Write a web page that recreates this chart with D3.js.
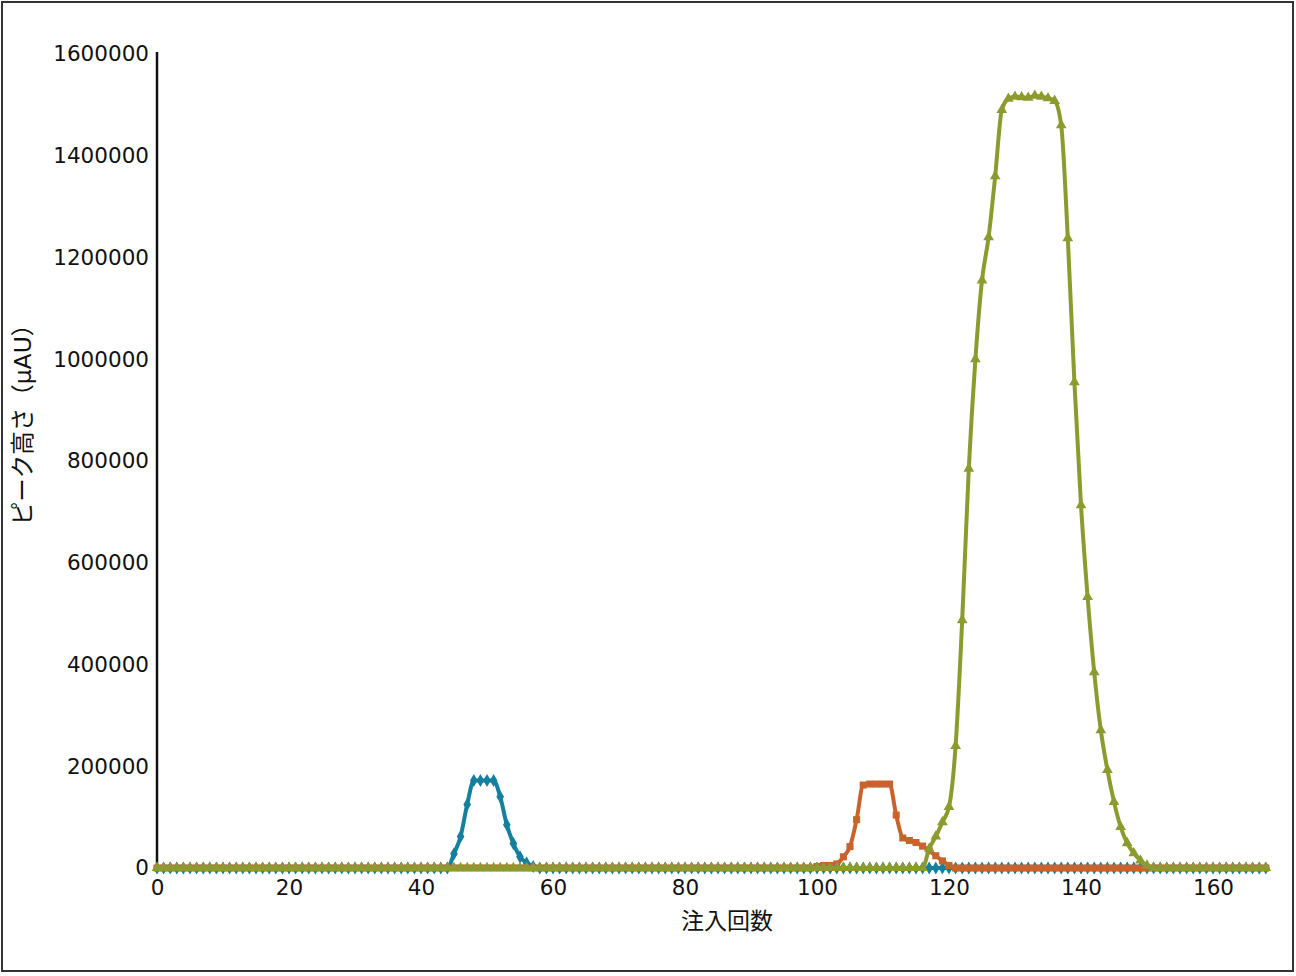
<!DOCTYPE html>
<html>
<head>
<meta charset="utf-8">
<script src="https://cdn.jsdelivr.net/npm/d3@7"></script>
<style>
  body { margin: 0; background: #fff; }
  svg { display: block; font-family: "DejaVu Sans", "Noto Sans CJK JP", sans-serif; }
</style>
</head>
<body>
<svg id="chart" width="1296" height="976"></svg>
<script>
// injection number 0..168
const injections = d3.range(0, 169);

// peak height (µAU), one row = 10 injections
const blue = [
  0,0,0,0,0,0,0,0,0,0,
  0,0,0,0,0,0,0,0,0,0,
  0,0,0,0,0,0,0,0,0,0,
  0,0,0,0,0,0,0,0,0,0,
  0,0,0,0,0,28000,62000,125000,172000,172000,
  172000,172000,140000,85000,48000,22000,10000,3000,0,0,
  0,0,0,0,0,0,0,0,0,0,
  0,0,0,0,0,0,0,0,0,0,
  0,0,0,0,0,0,0,0,0,0,
  0,0,0,0,0,0,0,0,0,0,
  0,0,0,0,0,0,0,0,0,0,
  0,0,0,0,0,0,0,0,0,0,
  0,0,0,0,0,0,0,0,0,0,
  0,0,0,0,0,0,0,0,0,0,
  0,0,0,0,0,0,0,0,0,0,
  0,0,0,0,0,0,0,0,0,0,
  0,0,0,0,0,0,0,0,0
];

const orange = [
  0,0,0,0,0,0,0,0,0,0,
  0,0,0,0,0,0,0,0,0,0,
  0,0,0,0,0,0,0,0,0,0,
  0,0,0,0,0,0,0,0,0,0,
  0,0,0,0,0,0,0,0,0,0,
  0,0,0,0,0,0,0,0,0,0,
  0,0,0,0,0,0,0,0,0,0,
  0,0,0,0,0,0,0,0,0,0,
  0,0,0,0,0,0,0,0,0,0,
  0,0,0,0,0,0,0,0,0,0,
  3000,5000,5000,8000,22000,42000,95000,163000,165000,165000,
  165000,165000,104000,59000,54000,50000,43000,34000,24000,14000,
  5000,0,0,0,0,0,0,0,0,0,
  0,0,0,0,0,0,0,0,0,0,
  0,0,0,0,0,0,0,0,0,0,
  0,0,0,0,0,0,0,0,0,0,
  0,0,0,0,0,0,0,0,0
];

const green = [
  0,0,0,0,0,0,0,0,0,0,
  0,0,0,0,0,0,0,0,0,0,
  0,0,0,0,0,0,0,0,0,0,
  0,0,0,0,0,0,0,0,0,0,
  0,0,0,0,0,0,0,0,0,0,
  0,0,0,0,0,0,0,0,0,0,
  0,0,0,0,0,0,0,0,0,0,
  0,0,0,0,0,0,0,0,0,0,
  0,0,0,0,0,0,0,0,0,0,
  0,0,0,0,0,0,0,0,0,0,
  0,0,0,0,0,0,0,0,0,0,
  0,0,0,0,0,0,0,38000,62000,90000,
  120000,240000,487000,785000,1000000,1155000,1240000,1360000,1490000,1512000,
  1516000,1515000,1514000,1518000,1516000,1513000,1508000,1460000,1238000,955000,
  713000,533000,385000,271000,193000,130000,81000,49000,29000,15000,
  5000,0,0,0,0,0,0,0,0,0,
  0,0,0,0,0,0,0,0,0
];

const xTicks = [0, 20, 40, 60, 80, 100, 120, 140, 160];
const yTicks = [0, 200000, 400000, 600000, 800000, 1000000, 1200000, 1400000, 1600000];

const series = [
  { name: 'blue', values: blue, color: '#147f9e', symbol: d3.symbolDiamond },
  { name: 'orange', values: orange, color: '#c8632d', symbol: d3.symbolSquare },
  { name: 'green', values: green, color: '#8c9b2e', symbol: d3.symbolTriangle }
];

const svg = d3.select('#chart');
const margin = { top: 54, right: 17, bottom: 108, left: 157 };
const W = 1296, H = 976;

// outer frame
svg.append('rect')
  .attr('x', 2).attr('y', 2)
  .attr('width', 1291).attr('height', 969)
  .attr('fill', 'none')
  .attr('stroke', '#333')
  .attr('stroke-width', 2);

const x = d3.scaleLinear().domain([0, 160]).range([margin.left, 1213]);
const y = d3.scaleLinear().domain([0, 1600000]).range([H - margin.bottom, margin.top]);

// y axis: line + labels, no ticks
const yAxis = svg.append('g')
  .attr('transform', `translate(${margin.left},0)`)
  .call(d3.axisLeft(y).tickValues(yTicks).tickSize(0).tickPadding(8).tickFormat(d3.format('d')));
yAxis.select('.domain')
  .attr('d', `M0,${y(1600000) - 2}V${y(0)}`)
  .attr('stroke', '#111')
  .attr('stroke-width', 2.5);
yAxis.selectAll('text').attr('font-size', 21.5).attr('fill', '#111').attr('font-family', 'DejaVu Sans');

// x axis: labels only
const xAxis = svg.append('g')
  .attr('transform', `translate(0,${y(0)})`)
  .call(d3.axisBottom(x).tickValues(xTicks).tickSize(0).tickPadding(12));
xAxis.select('.domain').remove();
xAxis.selectAll('text').attr('font-size', 21.5).attr('fill', '#111').attr('font-family', 'DejaVu Sans');

// axis titles
svg.append('text')
  .attr('x', 727).attr('y', 929)
  .attr('text-anchor', 'middle')
  .attr('font-size', 23)
  .attr('fill', '#111')
  .text('注入回数');

svg.append('text')
  .attr('transform', 'translate(31,419) rotate(-90)')
  .attr('text-anchor', 'middle')
  .attr('font-size', 23.5)
  .attr('fill', '#111')
  .text('ピーク高さ（μAU）');

const line = d3.line()
  .x((d, i) => x(injections[i]))
  .y(d => y(d))
  .curve(d3.curveMonotoneX);

series.forEach(s => {
  const g = svg.append('g').attr('class', s.name);
  g.append('path')
    .datum(s.values)
    .attr('d', line)
    .attr('fill', 'none')
    .attr('stroke', s.color)
    .attr('stroke-width', 4)
    .attr('stroke-linejoin', 'round');
  g.selectAll('path.mark')
    .data(s.values)
    .join('path')
    .attr('class', 'mark')
    .attr('transform', (d, i) => `translate(${x(injections[i])},${y(d)})`)
    .attr('d', d3.symbol().type(s.symbol).size(50))
    .attr('fill', s.color);
});
</script>
</body>
</html>
